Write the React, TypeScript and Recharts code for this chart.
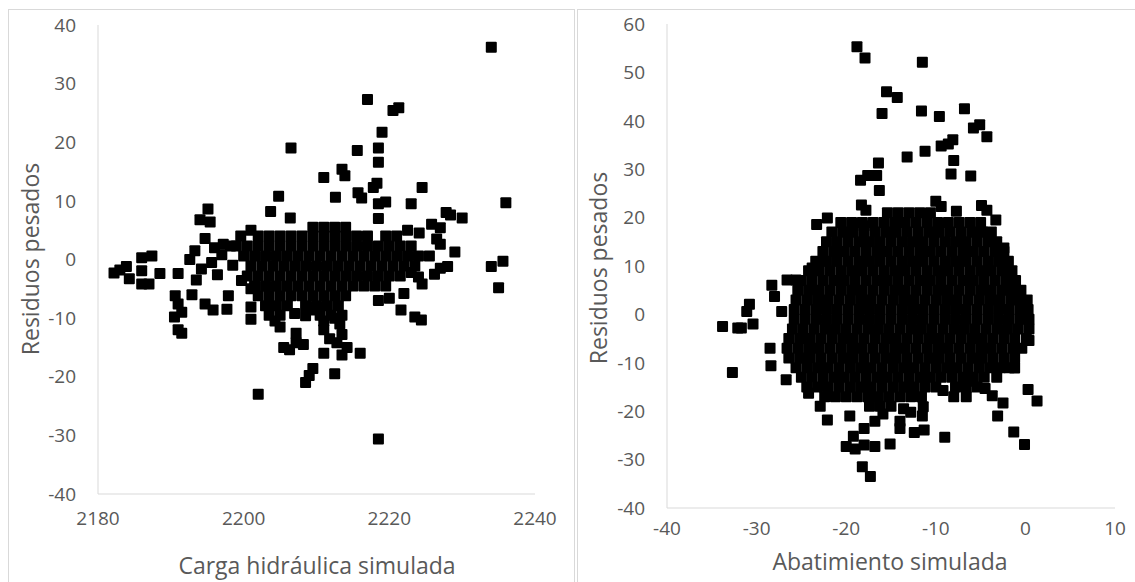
import React from 'react';
import { ScatterChart, Scatter, XAxis, YAxis } from 'recharts';

// ---- left panel: carga hidráulica vs residuos ----
const cargaTicksX = [2180, 2200, 2220, 2240];
const residuoTicksLeft = [-40, -30, -20, -10, 0, 10, 20, 30, 40];

// sparse / outlying points [x, y]
const cargaSparse: [number, number][] = [
    [2234, 36.2], [2217, 27.3], [2220.5, 25.4], [2221.3, 25.9], [2219, 21.7], [2206.5, 19], [2215.6, 18.6],
    [2218.5, 19], [2218.5, 16.6], [2211, 14], [2213.5, 15.4], [2213.9, 14.3], [2218.3, 13], [2217.8, 12.3],
    [2224.5, 12.3], [2204.8, 10.8], [2212.6, 10.6], [2215.7, 11.4], [2216.2, 10.5], [2218.5, 9.5], [2219.5, 9.8],
    [2223, 9.5], [2236, 9.7], [2195.1, 8.6], [2194, 6.8], [2195.4, 6.4], [2203.7, 8.2], [2206.4, 7.1], [2218.5, 7],
    [2227.8, 8], [2228.4, 7.6], [2230, 7.1], [2225.8, 6], [2227, 5.4], [2226.5, 3.5], [2227, 2.6], [2222.5, 5],
    [2224.1, 4.5], [2229, 1.3], [2234, -1.2], [2235.6, -0.3], [2235, -4.8], [2228, -1.2], [2226.2, -2.5],
    [2224.5, -4.2], [2222, -5.8], [2220, -6.6], [2221.6, -8.6], [2218.5, -7], [2223.5, -9.8], [2224.4, -10.3],
    [2216, -16], [2212.5, -19.5], [2208.5, -21], [2209, -19.8], [2209.5, -18.6], [2202, -23], [2218.5, -30.6],
    [2208.2, -14.5], [2205.5, -15], [2206.3, -15.4], [2207.2, -12.6], [2211, -16], [2213.5, -16.3], [2214.2, -15],
    [2213.5, -12.8], [2211, -12], [2213.2, -11], [2211, -10.5], [2212.5, -10], [2211.8, -13.5], [2212.8, -14.2],
    [2207.2, -14.2], [2201, -10.2], [2201, -8.1], [2199.7, -3.6], [2201, -5], [2197.9, -6.2], [2197.7, -8.5],
    [2194.7, -7.6], [2195.8, -8.6], [2191, -12], [2191.5, -12.6], [2190.5, -9.8], [2191.5, -9], [2190.6, -6.2],
    [2191, -7.6], [2191, -2.4], [2192.9, -6], [2193.5, -3.5], [2188.5, -2.4], [2182.2, -2.3], [2183, -1.8],
    [2183.9, -1.2], [2184.3, -3.3], [2186, -1.9], [2186, 0.3], [2187.4, 0.6], [2186, -4.2], [2187, -4.2],
    [2194.7, 3.6], [2193.3, 1.5], [2192.6, 0], [2196, 2], [2197.2, 2.6], [2198.2, 2.3], [2199.6, 4], [2201, 5],
    [2195.6, -0.5], [2194.2, -1.6], [2198.5, -1], [2197, 0.8], [2196.4, -2.6], [2205, -11.5], [2204.3, -10.5],
    [2207, -9.2], [2208.5, -9.6], [2209.5, -8.6], [2224, -3], [2223, -2.2], [2227, -1.5],
];

// dense core, one row of x values per y level
const cargaCoreY = [5.5, 4, 2.3, 0.6, -1.1, -2.8, -4.5, -6.2, -7.9, -9.5];
const cargaCoreX = [
    [2209.5, 2211, 2212.5, 2214],
    [2202, 2203.5, 2205, 2206.5, 2208, 2209.5, 2211, 2212.5, 2214, 2215.5, 2217, 2219.5, 2221],
    [2199, 2200.5, 2202, 2203.5, 2205, 2206.5, 2208, 2209.5, 2211, 2212.5, 2214, 2215.5, 2217, 2218.5, 2220, 2221.5, 2223],
    [2200, 2201.5, 2203, 2204.5, 2206, 2207.5, 2209, 2210.5, 2212, 2213.5, 2215, 2216.5, 2218, 2219.5, 2221, 2222.5, 2224, 2225.5],
    [2201, 2202.5, 2204, 2205.5, 2207, 2208.5, 2210, 2211.5, 2213, 2214.5, 2216, 2217.5, 2219, 2220.5, 2222, 2223.5],
    [2200.5, 2202, 2203.5, 2205, 2206.5, 2208, 2209.5, 2211, 2212.5, 2214, 2215.5, 2217, 2218.5, 2220, 2221.5],
    [2201.5, 2203, 2204.5, 2206, 2207.5, 2209, 2210.5, 2212, 2213.5, 2215, 2216.5, 2218, 2219.5],
    [2202, 2203.5, 2205, 2206.5, 2208, 2209.5, 2211, 2212.5, 2214],
    [2203, 2204.5, 2206, 2208.5, 2210, 2211.5, 2213],
    [2203.5, 2205, 2210.5, 2212, 2213.5],
];

// ---- right panel: abatimiento vs residuos ----
const abatTicksX = [-40, -30, -20, -10, 0, 10];
const residuoTicksRight = [-40, -30, -20, -10, 0, 10, 20, 30, 40, 50, 60];

const abatSparse: [number, number][] = [
    [-18.8, 55.3], [-17.9, 53], [-11.5, 52.1], [-15.5, 46], [-14.3, 44.8], [-16, 41.5], [-11.6, 42], [-9.6, 40.9],
    [-6.8, 42.5], [-5.8, 38.5], [-5.1, 39.2], [-4.3, 36.7], [-9.4, 34.8], [-8.6, 35.2], [-8.1, 36.1], [-11.2, 33.7],
    [-13.2, 32.5], [-16.4, 31.3], [-8, 31.8], [-8.3, 29], [-6.1, 28.6], [-18.4, 27.7], [-17.6, 28.7], [-16.6, 28.7],
    [-16.3, 25.6], [-18.3, 22.6], [-17.8, 21.5], [-10, 23.4], [-9.4, 22.3], [-4.9, 22.5], [-4.3, 21.5], [-7.7, 21.3],
    [-3.3, 19.5], [-23.3, 18.6], [-22.1, 19.9], [-18, 18.3], [-2.4, 13.7], [-23.8, 9.6], [-28.3, 6], [-26.6, 7.1],
    [-25.6, 7.1], [-28, 3.7], [-30.8, 2.1], [-31.1, 0.6], [-30.4, -2], [-33.8, -2.5], [-32.1, -2.8], [-31.7, -2.8],
    [-27.2, 0.6], [-28.5, -7], [-28.4, -10.6], [-32.7, -12], [-26.7, -13.5], [0.3, -15.5], [1.3, -17.9],
    [-9.2, -15.7], [-1.3, -24.3], [-0.1, -26.9], [-9, -25.4], [-3.1, -21], [-2.5, -18.3], [-11.4, -19.1],
    [-11.5, -21], [-12.8, -20.2], [-12.4, -24.4], [-11.3, -23.9], [-14, -22.1], [-14, -23.6], [-19.6, -21],
    [-22.1, -21.8], [-22.9, -19], [-24.2, -16.3], [-20, -27.3], [-19, -27.8], [-18, -27], [-16.8, -27.3],
    [-15.1, -26.8], [-19.2, -25.2], [-18, -23.6], [-16.8, -22.1], [-15.9, -20.6], [-18.2, -31.5], [-17.3, -33.5],
    [-6.3, -13.8], [-4.5, -15.3], [-3.7, -16.8], [-1.2, -11.1], [0.4, -5.4], [-17.4, -19], [-16.2, -19],
    [-15, -19], [-13.6, -19.5],
];

// solid cloud, one row of x values per y level
const abatCoreY = [21, 19, 17, 15, 13, 11, 9, 7, 5, 3, 1, -1, -3, -5, -7, -9, -11, -13, -15, -17];
const abatCoreX = [
    [-15.4, -14.2, -13, -11.8, -10.6],
    [-20.6, -19.4, -18.2, -17, -15.8, -14.6, -13.4, -12.2, -11, -9.8, -8.6, -7.4, -6.2, -5],
    [-21.6, -20.4, -19.2, -18, -16.8, -15.6, -14.4, -13.2, -12, -10.8, -9.6, -8.4, -7.2, -6, -4.8, -3.8],
    [-22.2, -21, -19.8, -18.6, -17.4, -16.2, -15, -13.8, -12.6, -11.4, -10.2, -9, -7.8, -6.6, -5.4, -4.2, -3.2],
    [-22.6, -21.4, -20.2, -19, -17.8, -16.6, -15.4, -14.2, -13, -11.8, -10.6, -9.4, -8.2, -7, -5.8, -4.6, -3.4, -2.4],
    [-23.4, -22.2, -21, -19.8, -18.6, -17.4, -16.2, -15, -13.8, -12.6, -11.4, -10.2, -9, -7.8, -6.6, -5.4, -4.2, -3, -1.9],
    [-24.2, -23, -21.8, -20.6, -19.4, -18.2, -17, -15.8, -14.6, -13.4, -12.2, -11, -9.8, -8.6, -7.4, -6.2, -5, -3.8, -2.6, -1.5],
    [-25, -23.8, -22.6, -21.4, -20.2, -19, -17.8, -16.6, -15.4, -14.2, -13, -11.8, -10.6, -9.4, -8.2, -7, -5.8, -4.6, -3.4, -2.2, -1.1],
    [-25.4, -24.2, -23, -21.8, -20.6, -19.4, -18.2, -17, -15.8, -14.6, -13.4, -12.2, -11, -9.8, -8.6, -7.4, -6.2, -5, -3.8, -2.6, -1.5, -0.5],
    [-25.6, -24.4, -23.2, -22, -20.8, -19.6, -18.4, -17.2, -16, -14.8, -13.6, -12.4, -11.2, -10, -8.8, -7.6, -6.4, -5.2, -4, -2.8, -1.6, -0.5, 0.2],
    [-25.8, -24.6, -23.4, -22.2, -21, -19.8, -18.6, -17.4, -16.2, -15, -13.8, -12.6, -11.4, -10.2, -9, -7.8, -6.6, -5.4, -4.2, -3, -1.8, -0.6, 0.3],
    [-25.8, -24.6, -23.4, -22.2, -21, -19.8, -18.6, -17.4, -16.2, -15, -13.8, -12.6, -11.4, -10.2, -9, -7.8, -6.6, -5.4, -4.2, -3, -1.8, -0.6, 0.4],
    [-26, -24.8, -23.6, -22.4, -21.2, -20, -18.8, -17.6, -16.4, -15.2, -14, -12.8, -11.6, -10.4, -9.2, -8, -6.8, -5.6, -4.4, -3.2, -2, -0.8, 0.4],
    [-26.4, -25.2, -24, -22.8, -21.6, -20.4, -19.2, -18, -16.8, -15.6, -14.4, -13.2, -12, -10.8, -9.6, -8.4, -7.2, -6, -4.8, -3.6, -2.4, -1.2, 0.1],
    [-26.6, -25.4, -24.2, -23, -21.8, -20.6, -19.4, -18.2, -17, -15.8, -14.6, -13.4, -12.2, -11, -9.8, -8.6, -7.4, -6.2, -5, -3.8, -2.6, -1.4, -0.4],
    [-26.4, -25.2, -24, -22.8, -21.6, -20.4, -19.2, -18, -16.8, -15.6, -14.4, -13.2, -12, -10.8, -9.6, -8.4, -7.2, -6, -4.8, -3.6, -2.4, -1.2],
    [-25.6, -24.4, -23.2, -22, -20.8, -19.6, -18.4, -17.2, -16, -14.8, -13.6, -12.4, -11.2, -10, -8.8, -7.6, -6.4, -5.2, -4, -2.8, -1.8],
    [-25, -23.8, -22.6, -21.4, -20.2, -19, -17.8, -16.6, -15.4, -14.2, -13, -11.8, -10.6, -9.4, -8.2, -7, -5.8, -4.6, -3.2],
    [-24.4, -23.2, -22, -20.8, -19.6, -18.4, -17.2, -16, -14.8, -13.6, -12.4, -11.2, -10, -7.8, -6.6, -5.4],
    [-22.4, -21.2, -20, -18.8, -17.6, -16.4, -15.2, -14, -12.8, -11.6, -8, -6.6],
];

const toPoints = (sparse: [number, number][], rowsY: number[], rowsX: number[][]) => [
    ...rowsY.flatMap((y, i) => rowsX[i].map(x => ({ x, y }))),
    ...sparse.map(([x, y]) => ({ x, y })),
];

const cargaData = toPoints(cargaSparse, cargaCoreY, cargaCoreX);
const abatData = toPoints(abatSparse, abatCoreY, abatCoreX);

const FONT = '"Open Sans", sans-serif';
const TEXT = '#595959';
const GRID = '#d9d9d9';
const tickStyle = { fontSize: 19, fill: TEXT, fontFamily: FONT };

// black square marker like the Excel one
// eslint-disable-next-line @typescript-eslint/no-explicit-any
function Square(props: any) {
    const { cx, cy } = props;
    if (cx == null || cy == null) return null;
    return <rect x={cx - 5.5} y={cy - 5.5} width={11} height={11} rx={1} fill="#000" />;
}

const titleStyle: React.CSSProperties = {
    position: 'absolute', transform: 'translate(-50%, -50%)', whiteSpace: 'nowrap',
    fontFamily: FONT, fontSize: 23, color: TEXT, lineHeight: 1,
};

export default function App() {
    return (
        <div style={{ position: 'absolute', left: 0, top: 0, width: 1135, height: 582, background: '#fff', overflow: 'hidden' }}>
            {/* chart frames */}
            <div style={{ position: 'absolute', left: 8, top: 9, width: 567, height: 600, border: `1px solid ${GRID}`, boxSizing: 'border-box' }} />
            <div style={{ position: 'absolute', left: 577, top: 9, width: 600, height: 600, border: `1px solid ${GRID}`, boxSizing: 'border-box' }} />

            <div style={{ position: 'absolute', left: 8, top: 9 }}>
                <ScatterChart width={567} height={573} margin={{ top: 16, right: 40, bottom: 0, left: 0 }}>
                    <XAxis
                        type="number" dataKey="x" domain={[2180, 2240]} ticks={cargaTicksX} interval={0}
                        height={88} tickLine={false} tickSize={0} tickMargin={18}
                        axisLine={{ stroke: GRID }} tick={tickStyle}
                    />
                    <YAxis
                        type="number" dataKey="y" domain={[-40, 40]} ticks={residuoTicksLeft} interval={0}
                        width={90} tickLine={false} tickSize={0} tickMargin={22}
                        axisLine={{ stroke: GRID }} tick={tickStyle}
                    />
                    <Scatter data={cargaData} fill="#000" shape={<Square />} isAnimationActive={false} />
                </ScatterChart>
            </div>

            <div style={{ position: 'absolute', left: 577, top: 9 }}>
                <ScatterChart width={558} height={573} margin={{ top: 15, right: 20, bottom: 0, left: 0 }}>
                    <XAxis
                        type="number" dataKey="x" domain={[-40, 10]} ticks={abatTicksX} interval={0}
                        height={74} tickLine={false} tickSize={0} tickMargin={14}
                        axisLine={{ stroke: GRID }} tick={tickStyle}
                    />
                    <YAxis
                        type="number" dataKey="y" domain={[-40, 60]} ticks={residuoTicksRight} interval={0}
                        width={90} tickLine={false} tickSize={0} tickMargin={22}
                        axisLine={{ stroke: GRID }} tick={tickStyle}
                    />
                    <Scatter data={abatData} fill="#000" shape={<Square />} isAnimationActive={false} />
                </ScatterChart>
            </div>

            {/* axis titles */}
            <div style={{ ...titleStyle, left: 317, top: 565 }}>Carga hidráulica simulada</div>
            <div style={{ ...titleStyle, left: 30, top: 259, transform: 'translate(-50%, -50%) rotate(-90deg)' }}>Residuos pesados</div>
            <div style={{ ...titleStyle, left: 890, top: 561 }}>Abatimiento simulada</div>
            <div style={{ ...titleStyle, left: 598, top: 268, transform: 'translate(-50%, -50%) rotate(-90deg)' }}>Residuos pesados</div>
        </div>
    );
}
